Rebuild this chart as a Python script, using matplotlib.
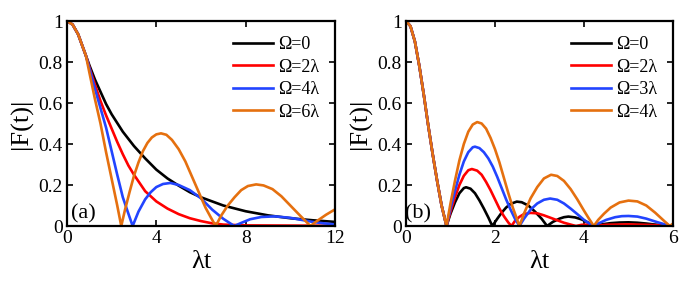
import matplotlib
matplotlib.use("Agg")
import matplotlib.pyplot as plt

plt.rcParams['font.family'] = ['Liberation Serif', 'DejaVu Serif']

# ---- panel (a): lambda*t from 0 to 12 ----
a_x_black = [0, 0.25, 0.5, 0.75, 0.85, 1.0, 1.25, 1.5, 1.75, 2.0, 2.5, 3.0, 3.5, 4.0, 4.5,
             5.0, 5.5, 6.0, 7.0, 8.0, 9.0, 10.0, 11.0, 12.0]
a_y_black = [1.0, 0.983, 0.935, 0.86, 0.83, 0.785, 0.715, 0.655, 0.595, 0.545, 0.46, 0.39,
             0.33, 0.275, 0.232, 0.197, 0.165, 0.14, 0.1, 0.072, 0.052, 0.038, 0.028, 0.02]

a_x_red = [0, 0.25, 0.5, 0.75, 0.85, 1.0, 1.25, 1.5, 1.75, 2.0, 2.25, 2.5, 2.75, 3.0, 3.5,
           4.0, 4.5, 5.0, 5.5, 6.0, 6.5, 7.0, 8.0, 10.0, 12.0]
a_y_red = [1.0, 0.983, 0.935, 0.86, 0.83, 0.775, 0.69, 0.61, 0.54, 0.475, 0.41, 0.35, 0.295,
           0.25, 0.17, 0.12, 0.085, 0.058, 0.038, 0.024, 0.013, 0.007, 0.003, 0.002, 0.001]

a_x_blue = [0, 0.25, 0.5, 0.75, 0.85, 1.0, 1.25, 1.5, 1.75, 2.0, 2.25, 2.5, 2.75, 2.94,
            3.2, 3.5, 3.75, 4.0, 4.3, 4.63, 5.0, 5.5, 6.0, 6.5, 7.0, 7.49,
            7.8, 8.2, 8.7, 9.3, 10.0, 10.5, 11.0, 11.5, 12.0]
a_y_blue = [1.0, 0.983, 0.935, 0.86, 0.83, 0.77, 0.67, 0.575, 0.48, 0.365, 0.25, 0.14, 0.06, 0.0,
            0.07, 0.13, 0.165, 0.19, 0.205, 0.21, 0.2, 0.175, 0.135, 0.08, 0.035, 0.0,
            0.015, 0.033, 0.044, 0.047, 0.04, 0.03, 0.02, 0.013, 0.008]

a_x_orange = [0, 0.25, 0.5, 0.75, 0.85, 1.0, 1.25, 1.5, 1.75, 2.0, 2.25, 2.43,
              2.6, 2.8, 3.0, 3.2, 3.4, 3.6, 3.8, 4.0, 4.21, 4.45, 4.7, 5.0, 5.3, 5.6, 5.9,
              6.2, 6.45, 6.66, 6.9, 7.2, 7.5, 7.8, 8.1, 8.47, 8.8, 9.2, 9.6, 10.0, 10.4,
              10.9, 11.2, 11.6, 12.0]
a_y_orange = [1.0, 0.983, 0.935, 0.86, 0.83, 0.75, 0.62, 0.50, 0.36, 0.23, 0.10, 0.0,
              0.08, 0.165, 0.245, 0.31, 0.365, 0.405, 0.432, 0.447, 0.452, 0.445, 0.42,
              0.375, 0.315, 0.24, 0.165, 0.09, 0.04, 0.0, 0.05, 0.1, 0.14, 0.175, 0.195,
              0.203, 0.198, 0.18, 0.145, 0.1, 0.055, 0.0, 0.025, 0.055, 0.081]

a_labels = ['Ω=0', 'Ω=2λ', 'Ω=4λ', 'Ω=6λ']

# ---- panel (b): lambda*t from 0 to 6 ----
b_x_start = [0, 0.1, 0.2, 0.3, 0.4, 0.5, 0.6, 0.7, 0.8, 0.91]
b_y_start = [1.0, 0.975, 0.9, 0.78, 0.64, 0.49, 0.35, 0.22, 0.1, 0.0]

b_x_black = [1.0, 1.1, 1.2, 1.3, 1.35, 1.45, 1.55, 1.65, 1.75, 1.85, 1.94,
             2.05, 2.15, 2.25, 2.35, 2.49, 2.6, 2.75, 2.9, 3.05, 3.17,
             3.3, 3.45, 3.55, 3.65, 3.8, 3.95, 4.1, 4.22,
             4.4, 4.6, 4.8, 5.0, 5.2, 5.4, 5.6, 5.8, 5.95, 6.0]
b_y_black = [0.06, 0.115, 0.16, 0.185, 0.189, 0.182, 0.16, 0.125, 0.085, 0.042, 0.0,
             0.035, 0.065, 0.09, 0.108, 0.119, 0.116, 0.1, 0.07, 0.035, 0.0,
             0.02, 0.036, 0.043, 0.046, 0.042, 0.032, 0.016, 0.0,
             0.008, 0.014, 0.017, 0.018, 0.016, 0.012, 0.007, 0.003, 0.0, 0.001]

b_x_red = [1.0, 1.1, 1.2, 1.3, 1.4, 1.48, 1.6, 1.7, 1.8, 1.9, 2.0, 2.1, 2.2, 2.3, 2.37,
           2.45, 2.55, 2.65, 2.8, 2.95, 3.1, 3.25, 3.4, 3.55, 3.7, 3.82, 3.95, 4.1, 4.22,
           4.5, 5.0, 5.5, 5.95, 6.0]
b_y_red = [0.07, 0.14, 0.2, 0.245, 0.272, 0.278, 0.27, 0.25, 0.215, 0.175, 0.13, 0.085,
           0.048, 0.017, 0.0, 0.025, 0.045, 0.058, 0.064, 0.062, 0.052, 0.04, 0.028, 0.016,
           0.007, 0.0, 0.006, 0.007, 0.0, 0.006, 0.008, 0.005, 0.0, 0.0]

b_x_blue = [1.0, 1.1, 1.2, 1.3, 1.4, 1.5, 1.55, 1.65, 1.75, 1.85, 1.95, 2.05, 2.15, 2.25,
            2.35, 2.45, 2.55, 2.65, 2.8, 2.95, 3.1, 3.24, 3.4, 3.55, 3.7, 3.85, 4.0, 4.1,
            4.22, 4.35, 4.5, 4.7, 4.85, 5.0, 5.2, 5.4, 5.6, 5.8, 5.95, 6.0]
b_y_blue = [0.085, 0.17, 0.25, 0.315, 0.36, 0.384, 0.387, 0.38, 0.36, 0.33, 0.29, 0.24,
            0.185, 0.13, 0.08, 0.035, 0.0, 0.035, 0.08, 0.11, 0.128, 0.134, 0.128, 0.11,
            0.085, 0.058, 0.03, 0.015, 0.0, 0.015, 0.03, 0.043, 0.048, 0.049, 0.046, 0.036,
            0.022, 0.009, 0.0, 0.002]

b_x_orange = [1.0, 1.1, 1.2, 1.3, 1.4, 1.5, 1.6, 1.7, 1.8, 1.9, 2.0, 2.1, 2.2, 2.3, 2.4,
              2.55, 2.65, 2.8, 2.95, 3.1, 3.26, 3.4, 3.55, 3.7, 3.85, 4.0, 4.1, 4.22,
              4.32, 4.45, 4.6, 4.8, 5.0, 5.2, 5.4, 5.6, 5.8, 5.93, 6.0]
b_y_orange = [0.11, 0.22, 0.32, 0.40, 0.46, 0.495, 0.507, 0.5, 0.475, 0.43, 0.375, 0.31,
              0.235, 0.16, 0.09, 0.0, 0.06, 0.135, 0.19, 0.232, 0.25, 0.244, 0.22, 0.18,
              0.13, 0.075, 0.04, 0.0, 0.03, 0.06, 0.09, 0.115, 0.124, 0.12, 0.1, 0.065,
              0.025, 0.0, 0.012]

b_labels = ['Ω=0', 'Ω=2λ', 'Ω=3λ', 'Ω=4λ']

colors = ['black', '#ff0000', '#2244ff', '#e5700f']
y_ticks = [0, 0.2, 0.4, 0.6, 0.8, 1]
y_ticklabels = ['0', '0.2', '0.4', '0.6', '0.8', '1']

fig = plt.figure(figsize=(6.92, 2.87), dpi=100)
ax1 = fig.add_axes([0.0968, 0.2125, 0.3873, 0.7143])
ax2 = fig.add_axes([0.5867, 0.2125, 0.3858, 0.7143])

# panel (a)
series_a = [(a_x_black, a_y_black), (a_x_red, a_y_red),
            (a_x_blue, a_y_blue), (a_x_orange, a_y_orange)]
for (xs, ys), c, lab in zip(series_a, colors, a_labels):
    ax1.plot(xs, ys, color=c, lw=1.9, label=lab)
ax1.set_xlim(0, 12)
ax1.set_xticks([0, 4, 8, 12])
ax1.text(0.2, 0.035, '(a)', fontsize=16)

# panel (b): all curves share the start up to the first zero
series_b = [(b_x_black, b_y_black), (b_x_red, b_y_red),
            (b_x_blue, b_y_blue), (b_x_orange, b_y_orange)]
for (xs, ys), c, lab in zip(series_b, colors, b_labels):
    ax2.plot(b_x_start + xs, b_y_start + ys, color=c, lw=1.9, label=lab)
ax2.set_xlim(0, 6)
ax2.set_xticks([0, 2, 4, 6])
ax2.text(-0.02, 0.035, '(b)', fontsize=16)

for ax in (ax1, ax2):
    ax.set_ylim(0, 1)
    ax.set_yticks(y_ticks)
    ax.set_yticklabels(y_ticklabels)
    ax.tick_params(direction='in', top=True, right=True, length=4, width=1.2,
                   labelsize=14, pad=3)
    for sp in ax.spines.values():
        sp.set_linewidth(1.6)
    ax.set_xlabel('λt', fontsize=19, labelpad=3)
    ax.set_ylabel('|F(t)|', fontsize=19, labelpad=4)
    ax.legend(loc='upper right', frameon=False, fontsize=13, handlelength=2.2,
              handletextpad=0.3, labelspacing=0.3, borderaxespad=0.45)

plt.savefig('out.png', dpi=100)
